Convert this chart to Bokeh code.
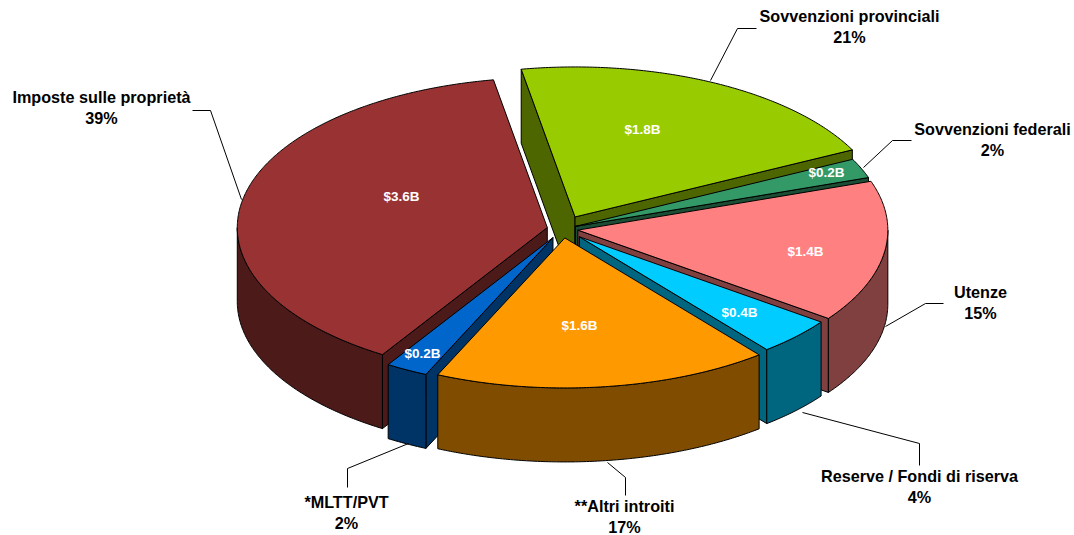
import numpy as np
from bokeh.embed import file_html
from bokeh.models import Range1d
from bokeh.plotting import figure
from bokeh.resources import INLINE
from bokeh.core.properties import value

# ---- data
categories = ["Sovvenzioni provinciali", "Imposte sulle proprietà", "*MLTT/PVT",
              "Sovvenzioni federali", "Utenze", "Reserve / Fondi di riserva", "**Altri introiti"]
percent_labels = ["21%", "39%", "2%", "2%", "15%", "4%", "17%"]
amount_labels = ["$1.8B", "$3.6B", "$0.2B", "$0.2B", "$1.4B", "$0.4B", "$1.6B"]
# estimated unrounded shares, clockwise from the provincial slice
shares = {"Sovvenzioni provinciali": 20.4, "Sovvenzioni federali": 2.1, "Utenze": 15.3,
          "Reserve / Fondi di riserva": 4.2, "**Altri introiti": 17.5, "*MLTT/PVT": 2.2,
          "Imposte sulle proprietà": 38.3}

# ---- styling and layout
clockwise = ["Sovvenzioni provinciali", "Sovvenzioni federali", "Utenze",
             "Reserve / Fondi di riserva", "**Altri introiti", "*MLTT/PVT",
             "Imposte sulle proprietà"]
paint_order = ["Sovvenzioni provinciali", "Imposte sulle proprietà", "*MLTT/PVT",
               "Sovvenzioni federali", "Utenze", "Reserve / Fondi di riserva", "**Altri introiti"]
top_colors = ["#99CC00", "#993333", "#0066CC", "#339966", "#FF8080", "#00CCFF", "#FF9900"]
side_colors = ["#4D6600", "#4D1A1A", "#003366", "#1A4D33", "#804040", "#006680", "#804D00"]
explode = [0.09, 0.05, 0.065, 0.045, 0.05, 0.075, 0.06]
radius = [1, 1, 1, 1, 1, 0.965, 1]
amount_xy = [(642, 129), (401, 196), (422, 353), (826, 172), (805, 251), (739, 312), (579, 325)]
label_xy = [(849, 15), (101, 96), (346, 501), (992, 128), (980, 291), (919, 475), (624, 505)]
leaders = [
    [(710, 80), (737, 28), (756, 28)],
    [(241, 199), (210, 110), (192, 110)],
    [(408, 443), (347, 468), (347, 487)],
    [(863, 167), (892, 140), (911, 140)],
    [(885, 326), (925, 303), (943, 303)],
    [(802, 412), (919, 443), (919, 465)],
    [(607, 462), (625, 477), (625, 495)],
]
CX, CY, RX, RY, DEPTH, START = 562, 228.5, 310, 150, 74, -100.0
FONT = value("Liberation Sans")
LABEL_SIZE, AMOUNT_SIZE, LINE_GAP = "16.2px", "13.5px", 21

p = figure(width=1074, height=535, output_backend="svg", toolbar_location=None,
           x_range=Range1d(0, 1074), y_range=Range1d(535, 0), min_border=0,
           outline_line_color=None, background_fill_color="white",
           border_fill_color="white")
p.axis.visible = False
p.grid.visible = False

# slice angle spans from the shares
span = {}
a = START
for c in clockwise:
    b = a + shares[c] * 3.6
    span[c] = (a, b)
    a = b


def arc(ax, ay, r, t0, t1, down=0.0):
    t = np.radians(np.linspace(t0, t1, max(2, int(abs(t1 - t0) * 2))))
    return ax + r * RX * np.cos(t), ay + r * RY * np.sin(t) + down


xs, ys, fills = [], [], []
for i, c in enumerate(paint_order):
    t0, t1 = span[c]
    r = radius[i]
    mid = np.radians((t0 + t1) / 2)
    ax = CX + explode[i] * RX * np.cos(mid)
    ay = CY + explode[i] * RY * np.sin(mid)

    def radial(t):
        ex = ax + r * RX * np.cos(np.radians(t))
        ey = ay + r * RY * np.sin(np.radians(t))
        xs.append([ax, ex, ex, ax])
        ys.append([ay, ey, ey + DEPTH, ay + DEPTH])
        fills.append(side_colors[i])

    if np.cos(np.radians(t0)) < 0:
        radial(t0)
    if np.cos(np.radians(t1)) > 0:
        radial(t1)
    # outer wall: only the part that faces the viewer
    lo, hi = max(t0, 0), min(t1, 180)
    if hi > lo:
        xa, ya = arc(ax, ay, r, lo, hi)
        xb, yb = arc(ax, ay, r, hi, lo, DEPTH)
        xs.append(list(xa) + list(xb))
        ys.append(list(ya) + list(yb))
        fills.append(side_colors[i])
    xa, ya = arc(ax, ay, r, t0, t1)
    xs.append([ax] + list(xa))
    ys.append([ay] + list(ya))
    fills.append(top_colors[i])

p.patches(xs, ys, fill_color=fills, line_color="black", line_width=1)

for pts in leaders:
    p.line([q[0] for q in pts], [q[1] for q in pts], line_color="black", line_width=1)

p.text([q[0] for q in amount_xy], [q[1] for q in amount_xy], text=amount_labels,
       text_color="white", text_font=FONT, text_font_style="bold",
       text_font_size=AMOUNT_SIZE, text_align="center", text_baseline="middle")
lx = [q[0] for q in label_xy] * 2
ly = [q[1] for q in label_xy] + [q[1] + LINE_GAP for q in label_xy]
p.text(lx, ly, text=categories + percent_labels, text_color="black", text_font=FONT,
       text_font_style="bold", text_font_size=LABEL_SIZE, text_align="center",
       text_baseline="middle")

open("out.html", "w").write(file_html(p, INLINE))
